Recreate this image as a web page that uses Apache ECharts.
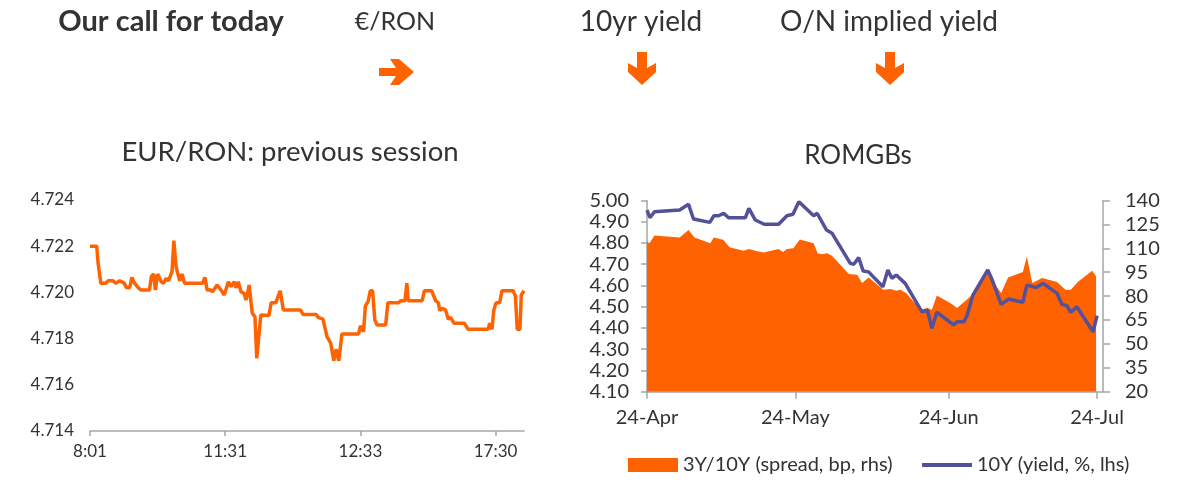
<!DOCTYPE html>
<html lang="en">
<head>
<meta charset="UTF-8">
<title>Our call for today</title>
<script src="https://cdn.jsdelivr.net/npm/echarts@6.0.0/dist/echarts.min.js"></script>
<style>
    html, body { margin: 0; padding: 0; background: #fff; }
    #chart { width: 1200px; height: 493px; }
</style>
</head>
<body>
<div id="chart"></div>
<script>
    // EUR/RON previous session: position along the session axis and rate
    var fxPos = [0, 1.5, 1.8, 2.2, 2.4, 3.5, 4.0, 5.1, 5.7, 6.6, 7.6, 8.1, 8.8, 9.3, 9.9, 10.7, 11.4, 13.2, 13.6, 14.1,
        14.5, 15.0, 15.8, 16.3, 16.9, 17.4, 18.2, 18.6, 19.1, 19.9, 20.4, 21.0, 25.0, 25.5, 26.0, 26.7, 27.2, 28.2, 29.1, 29.8,
        30.7, 31.3, 32.0, 32.4, 32.9, 33.5, 34.2, 34.6, 34.9, 35.3, 36.0, 36.6, 37.0, 37.9, 39.7, 40.2, 41.2, 42.2, 42.9, 46.7,
        47.3, 50.2, 50.6, 51.7, 52.6, 53.4, 54.1, 54.6, 55.2, 55.9, 59.6, 60.0, 60.7, 61.1, 61.7, 62.2, 62.7, 63.2, 63.7, 65.6,
        66.1, 68.4, 69.0, 69.9, 70.3, 70.6, 73.7, 74.2, 75.8, 76.7, 77.3, 77.6, 78.1, 78.9, 79.5, 80.0, 80.8, 83.1, 83.9, 88.3,
        88.7, 89.2, 89.6, 90.1, 90.9, 91.4, 93.9, 94.4, 94.8, 95.4, 95.7, 96.3];
    var fxRate = [4.7220, 4.7220, 4.72126, 4.72119, 4.7204, 4.7204, 4.7205, 4.7205, 4.7204, 4.7205, 4.7204, 4.7202, 4.7202, 4.72065, 4.7204, 4.7202, 4.7201, 4.7201, 4.72068, 4.7208,
        4.7201, 4.7208, 4.72046, 4.7204, 4.72061, 4.7205, 4.7209, 4.72224, 4.72111, 4.7205, 4.7208, 4.7204, 4.7204, 4.72065, 4.7201, 4.72011, 4.72003, 4.72032, 4.7201, 4.71989,
        4.72046, 4.72025, 4.72046, 4.7202, 4.72046, 4.72003, 4.71996, 4.71967, 4.71989, 4.72032, 4.7191, 4.71895, 4.71715, 4.71902, 4.7190, 4.71955, 4.71955, 4.72007, 4.71924, 4.71924,
        4.71904, 4.71904, 4.71892, 4.71884, 4.71808, 4.7178, 4.71704, 4.71754, 4.71704, 4.7182, 4.7182, 4.71855, 4.7183, 4.71941, 4.7196, 4.72007, 4.72007, 4.7188, 4.71859, 4.71859,
        4.71955, 4.71955, 4.71964, 4.71964, 4.7204, 4.71964, 4.71964, 4.72007, 4.72007, 4.71964, 4.71955, 4.71921, 4.71931, 4.71924, 4.71884, 4.71892, 4.71866, 4.71866, 4.7184, 4.7184,
        4.71866, 4.7184, 4.71924, 4.71955, 4.71955, 4.72007, 4.72007, 4.71984, 4.7184, 4.7184, 4.71989, 4.72007];
    var fxTickPos = [0, 30, 60, 90];
    var fxTickLabels = ['8:01', '11:31', '12:33', '17:30'];

    // ROMGBs: days since 24-Apr
    var yieldDays = [0, 0.6, 1.5, 6.6, 8.4, 9.4, 12.7, 13.5, 14.5, 15.5, 16.5, 19.9, 20.6, 21.9, 23.7, 26.6, 28.3, 29.5, 30.7, 33.7,
        34.4, 36.3, 37.4, 41.1, 41.8, 42.8, 43.7, 44.8, 47.7, 48.7, 49.5, 50.4, 52.2, 55.6, 56.7, 57.6, 58.6, 62.0, 62.7, 64.1,
        64.7, 65.9, 68.9, 69.8, 71.6, 73.1, 76.0, 76.8, 78.7, 80.1, 82.9, 83.9, 84.9, 85.7, 86.9, 90.2, 91.0];
    var yield10y = [4.955, 4.919, 4.947, 4.955, 4.982, 4.913, 4.897, 4.928, 4.928, 4.940, 4.919, 4.919, 4.963, 4.908, 4.888, 4.888, 4.928, 4.935, 4.994, 4.928,
        4.940, 4.861, 4.846, 4.704, 4.700, 4.731, 4.668, 4.664, 4.594, 4.673, 4.634, 4.649, 4.610, 4.476, 4.484, 4.398, 4.474, 4.414, 4.429, 4.429,
        4.458, 4.555, 4.673, 4.626, 4.511, 4.536, 4.521, 4.602, 4.590, 4.610, 4.563, 4.511, 4.505, 4.474, 4.500, 4.382, 4.458];
    var spreadDays = [0, 0.5, 1.5, 6.6, 8.4, 9.6, 12.8, 13.5, 15.4, 16.7, 19.5, 20.6, 21.9, 23.6, 26.6, 27.5, 28.3, 29.6, 30.9, 33.7,
        34.5, 35.4, 36.4, 37.4, 40.8, 42.5, 43.5, 44.8, 47.8, 49.2, 50.4, 51.2, 52.4, 55.3, 56.7, 57.6, 58.6, 61.3, 62.7, 65.4,
        68.8, 71.6, 73.0, 76.0, 76.8, 77.9, 79.9, 82.9, 84.6, 85.7, 87.1, 90.0, 90.8];
    var spread3y10y = [114.2, 113.2, 118.0, 116.7, 121.5, 116.7, 113.2, 116.7, 115.3, 110.7, 108.4, 109.6, 108.4, 107.3, 109.6, 107.6, 109.6, 110.1, 115.6, 113.2,
        106.9, 106.3, 106.9, 105.4, 93.8, 93.4, 88.2, 91.7, 84.0, 84.4, 83.4, 84.0, 81.9, 71.5, 72.5, 71.5, 80.4, 75.6, 72.5, 79.8,
        94.4, 81.9, 91.7, 95.1, 104.8, 88.2, 91.3, 88.8, 84.0, 84.0, 88.8, 95.9, 92.3];
    var bondTickDays = [0, 30, 61, 91];
    var bondTickLabels = ['24-Apr', '24-May', '24-Jun', '24-Jul'];

    var spreadName = '3Y/10Y (spread, bp, rhs)';
    var yieldName = '10Y (yield, %, lhs)';

    var orange = '#ff6200';
    var navy = '#525199';
    var textColor = '#333333';
    var axisColor = '#a6a6a6';
    var fontFamily = 'Lato, "Open Sans", sans-serif';

    function pairs(xs, ys) {
        return xs.map(function (x, i) { return [x, ys[i]]; });
    }

    function headerText(text, x, y, size, weight) {
        return {
            type: 'text', x: x, y: y, silent: true,
            style: {
                text: text, fill: textColor, fontSize: size, fontWeight: weight || 'normal',
                fontFamily: fontFamily, textAlign: 'center', textVerticalAlign: 'middle'
            }
        };
    }

    function arrow(points) {
        return {type: 'polygon', silent: true, shape: {points: points}, style: {fill: orange}};
    }

    var chart = echarts.init(document.getElementById('chart'));

    chart.setOption({
        animation: false,
        textStyle: {fontFamily: fontFamily},
        graphic: [
            headerText('Our call for today', 171, 22, 29, 'bold'),
            headerText('€/RON', 395, 22, 25),
            headerText('10yr yield', 641, 22, 28),
            headerText('O/N implied yield', 889, 22, 28),
            headerText('EUR/RON: previous session', 290, 152, 27.5),
            headerText('ROMGBs', 858, 156, 26),
            arrow([[379, 68], [396, 68], [390, 59], [399, 59], [414, 72], [399, 85], [390, 85], [396, 76], [379, 76]]),
            arrow([[637, 52], [647, 52], [647, 68], [656, 63], [656, 72], [642, 85], [628, 72], [628, 63], [637, 68]]),
            arrow([[885, 52], [895, 52], [895, 68], [904, 63], [904, 72], [890, 85], [876, 72], [876, 63], [885, 68]])
        ],
        legend: [
            {
                left: 623, top: 450,
                itemWidth: 50, itemHeight: 14,
                textStyle: {fontSize: 20, color: textColor},
                data: [{name: spreadName, icon: 'rect'}]
            },
            {
                left: 917, top: 450,
                itemWidth: 50, itemHeight: 4,
                textStyle: {fontSize: 20, color: textColor},
                data: [{name: yieldName, icon: 'rect'}]
            }
        ],
        grid: [
            {left: 90, top: 200, width: 434, height: 231},
            {left: 647, top: 200.5, width: 456, height: 191.2}
        ],
        xAxis: [
            {
                type: 'value', gridIndex: 0, min: 0, max: 96.3,
                axisLine: {lineStyle: {color: axisColor, width: 1.5}},
                axisTick: {customValues: fxTickPos, length: 5, lineStyle: {color: axisColor, width: 1.5}},
                axisLabel: {
                    customValues: fxTickPos, color: textColor, fontSize: 17, margin: 12,
                    formatter: function (v) { return fxTickLabels[fxTickPos.indexOf(v)]; }
                },
                splitLine: {show: false}
            },
            {
                type: 'value', gridIndex: 1, min: 0, max: 92.2,
                axisLine: {lineStyle: {color: axisColor, width: 1.5}},
                axisTick: {customValues: bondTickDays, length: 7, lineStyle: {color: axisColor, width: 1.5}},
                axisLabel: {
                    customValues: bondTickDays, color: textColor, fontSize: 20, margin: 16,
                    formatter: function (v) { return bondTickLabels[bondTickDays.indexOf(v)]; }
                },
                splitLine: {show: false}
            }
        ],
        yAxis: [
            {
                type: 'value', gridIndex: 0, min: 4.714, max: 4.724, interval: 0.002,
                axisLine: {show: false}, axisTick: {show: false}, splitLine: {show: false},
                axisLabel: {color: textColor, fontSize: 17, margin: 16, formatter: function (v) { return v.toFixed(3); }}
            },
            {
                type: 'value', gridIndex: 1, position: 'left', min: 4.1, max: 5.0, interval: 0.1,
                axisLine: {show: true, lineStyle: {color: axisColor, width: 1.5}},
                axisTick: {show: true, length: 6, lineStyle: {color: axisColor, width: 1.5}},
                splitLine: {show: false},
                axisLabel: {color: textColor, fontSize: 20, margin: 18, formatter: function (v) { return v.toFixed(2); }}
            },
            {
                type: 'value', gridIndex: 1, position: 'right', min: 20, max: 140, interval: 15,
                axisLine: {show: true, lineStyle: {color: axisColor, width: 1.5}},
                axisTick: {show: true, length: 7, lineStyle: {color: axisColor, width: 1.5}},
                splitLine: {show: false},
                axisLabel: {color: textColor, fontSize: 20, margin: 22}
            }
        ],
        series: [
            {
                type: 'line', xAxisIndex: 0, yAxisIndex: 0,
                data: pairs(fxPos, fxRate),
                symbol: 'none',
                lineStyle: {color: orange, width: 3.5}
            },
            {
                name: spreadName, type: 'line', xAxisIndex: 1, yAxisIndex: 2,
                data: pairs(spreadDays, spread3y10y),
                symbol: 'none',
                itemStyle: {color: orange},
                lineStyle: {color: orange, width: 0},
                areaStyle: {color: orange, opacity: 1, origin: 'start'},
                z: 2
            },
            {
                name: yieldName, type: 'line', xAxisIndex: 1, yAxisIndex: 1,
                data: pairs(yieldDays, yield10y),
                symbol: 'none',
                itemStyle: {color: navy},
                lineStyle: {color: navy, width: 3.5},
                z: 3
            }
        ]
    });
</script>
</body>
</html>
